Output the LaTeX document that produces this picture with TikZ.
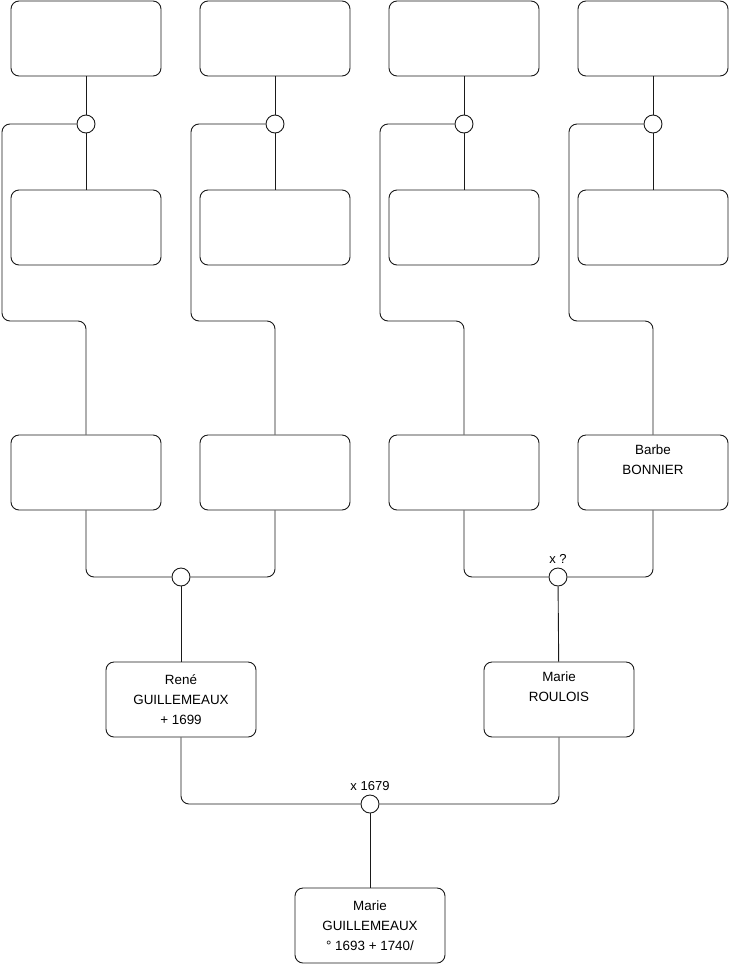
\documentclass[tikz,border=0pt]{standalone}
\usepackage{fontspec}
\setmainfont{Liberation Sans}
\usepackage{xcolor}
\usetikzlibrary{positioning, calc}
\definecolor{fline}{HTML}{1A1A1A}
\tikzset{
  person/.style={rectangle, rounded corners=8pt, draw=fline, fill=white, line width=0.9pt,
                 minimum width=150pt, minimum height=75pt, align=center,
                 font=\fontsize{13.4}{20}\selectfont},
  union/.style={circle, draw=fline, fill=white, line width=0.9pt, minimum size=18pt, inner sep=0pt},
  tag/.style={font=\fontsize{13}{14}\selectfont, inner sep=1pt},
  link/.style={draw=fline, line width=0.9pt, rounded corners=8pt}
}

\begin{document}
\begin{tikzpicture}[x=1pt, y=-1pt]
  \useasboundingbox (0,0) rectangle (740,975);

  % great-grandparents, four couples
  \foreach \col/\xc in {a/86, b/275, c/464, d/653} {
    \node[person] (top\col) at (\xc,38.5) {};
    \node[union] (u\col) at (\xc,124) {};
    \node[person] (mid\col) at (\xc,227.5) {};
    \draw[link] (top\col) -- (u\col);
    \draw[link] (u\col) -- (mid\col);
  }

  % grandparents
  \node[person] (gpa) at (86,472.5) {};
  \node[person] (gpb) at (275,472.5) {};
  \node[person] (gpc) at (464,472.5) {};
  \node[person] (gpd) at (653,472.5) {Barbe\\BONNIER\\\strut};

  \draw[link] (ua.west) -| (2,321) -| (gpa.north);
  \draw[link] (ub.west) -| (191,321) -| (gpb.north);
  \draw[link] (uc.west) -| (380,321) -| (gpc.north);
  \draw[link] (ud.west) -| (569,321) -| (gpd.north);

  % parents
  \node[union] (upat) at (181,577) {};
  \node[union, label={[tag, label distance=3pt]above:x ?}] (umat) at (558,577) {};
  \draw[link] (gpa.south) |- (upat.west);
  \draw[link] (gpb.south) |- (upat.east);
  \draw[link] (gpc.south) |- (umat.west);
  \draw[link] (gpd.south) |- (umat.east);

  \node[person] (rene) at (181,699.5) {René\\GUILLEMEAUX\\+ 1699};
  \node[person] (roulois) at (559,699.5) {Marie\\ROULOIS\\\strut};
  \draw[link] (upat) -- (rene);
  \draw[link] (umat) -- (roulois);

  % child
  \node[union, label={[tag, label distance=3pt]above:x 1679}] (uroot) at (370,804) {};
  \draw[link] (rene.south) |- (uroot.west);
  \draw[link] (roulois.south) |- (uroot.east);

  \node[person] (marie) at (370,925.5) {Marie\\GUILLEMEAUX\\° 1693 + 1740/};
  \draw[link] (uroot) -- (marie);
\end{tikzpicture}
\end{document}
